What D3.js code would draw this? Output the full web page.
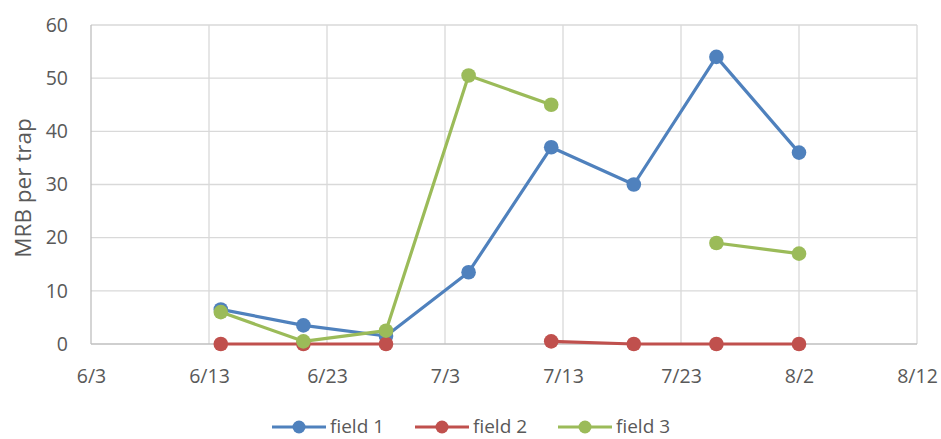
<!DOCTYPE html>
<html><head><meta charset="utf-8">
<script src="https://cdn.jsdelivr.net/npm/d3@7"></script>
<style>body{margin:0;background:#fff}svg{display:block}</style>
</head><body><svg id="c" width="941" height="439"></svg>
<script>
const dates = ["2015-06-14","2015-06-21","2015-06-28","2015-07-05","2015-07-12","2015-07-19","2015-07-26","2015-08-02"];
const field1 = [6.5, 3.5, 1.5, 13.5, 37, 30, 54, 36];
const field2 = [0, 0, 0, null, 0.5, 0, 0, 0];
const field3 = [6, 0.5, 2.5, 50.5, 45, null, 19, 17];
const seriesNames = ["field 1","field 2","field 3"];
const colors = ["#4F81BD","#C0504D","#9BBB59"];
const xTickLabels = ["6/3","6/13","6/23","7/3","7/13","7/23","8/2","8/12"];
const yTicks = [0,10,20,30,40,50,60];
const yTitle = "MRB per trap";

const parse = d3.timeParse("%Y-%m-%d");
const xStart = parse("2015-06-03"), xEnd = parse("2015-08-12");
const svg = d3.select("#c");
const L=91, R=917, T=25, B=344;
const x = d3.scaleTime().domain([xStart,xEnd]).range([L,R]);
const y = d3.scaleLinear().domain([0,60]).range([B,T]);
const xTicks = d3.timeDay.range(xStart, d3.timeDay.offset(xEnd,1), 10);
const font = "'Open Sans', sans-serif";
const tc = "#595959";

// grid
svg.append("g").selectAll("line").data(yTicks.slice(1)).join("line")
  .attr("x1",L).attr("x2",R).attr("y1",d=>y(d)).attr("y2",d=>y(d))
  .attr("stroke","#D9D9D9").attr("stroke-width",1.3);
svg.append("g").selectAll("line").data(xTicks.slice(1)).join("line")
  .attr("x1",d=>x(d)).attr("x2",d=>x(d)).attr("y1",T).attr("y2",B)
  .attr("stroke","#D9D9D9").attr("stroke-width",1.3);
svg.append("line").attr("x1",L).attr("x2",L).attr("y1",T).attr("y2",B).attr("stroke","#BFBFBF").attr("stroke-width",1.3);
svg.append("line").attr("x1",L).attr("x2",R).attr("y1",B).attr("y2",B).attr("stroke","#BFBFBF").attr("stroke-width",1.3);

// y tick labels
const gy = svg.append("g").attr("transform",`translate(68,0)`)
  .call(d3.axisLeft(y).tickValues(yTicks).tickSize(0).tickPadding(0));
gy.select(".domain").remove();
gy.selectAll("text").attr("font-family",font).attr("font-size",19.5).attr("fill",tc);

// x tick labels
const gx = svg.append("g").attr("transform",`translate(0,369)`)
  .call(d3.axisBottom(x).tickValues(xTicks).tickFormat((d,i)=>xTickLabels[i]).tickSize(0).tickPadding(0));
gx.select(".domain").remove();
gx.selectAll("text").attr("font-family",font).attr("font-size",19.5).attr("fill",tc);

// y title
svg.append("text").attr("transform",`translate(31,188) rotate(-90)`)
  .attr("text-anchor","middle").attr("font-family",font).attr("font-size",22.5).attr("fill",tc).text(yTitle);

// series
const all = [field1, field2, field3];
const line = d3.line().defined(d=>d.v!==null).x(d=>x(d.d)).y(d=>y(d.v));
all.forEach((vals,i)=>{
  const pts = dates.map((d,j)=>({d:parse(d), v:vals[j]}));
  svg.append("path").datum(pts).attr("d",line).attr("fill","none")
    .attr("stroke",colors[i]).attr("stroke-width",3.2).attr("stroke-linejoin","round");
  svg.append("g").selectAll("circle").data(pts.filter(p=>p.v!==null)).join("circle")
    .attr("cx",p=>x(p.d)).attr("cy",p=>y(p.v)).attr("r",7.3).attr("fill",colors[i]);
});

// legend
const legX = [272, 415, 558];
const lg = svg.append("g");
seriesNames.forEach((n,i)=>{
  const g = lg.append("g").attr("transform",`translate(${legX[i]},427)`);
  g.append("line").attr("x1",0).attr("x2",54).attr("stroke",colors[i]).attr("stroke-width",3.2);
  g.append("circle").attr("cx",27).attr("r",6.5).attr("fill",colors[i]);
  g.append("text").attr("x",58).attr("y",6).attr("font-family",font).attr("font-size",19).attr("fill",tc).text(n);
});
</script></body></html>
